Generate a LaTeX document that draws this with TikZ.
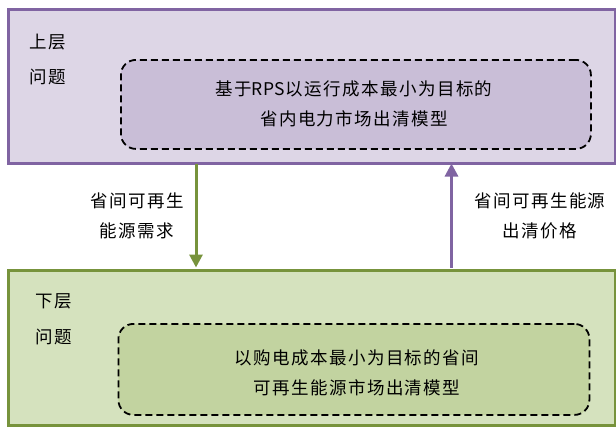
\documentclass[tikz,border=0pt]{standalone}
\usepackage{fontspec}
\newfontfamily\cjk[LetterSpace=8]{Noto Sans CJK SC}
\newfontfamily\latn{Noto Sans CJK SC}
\usetikzlibrary{arrows.meta}
\definecolor{pborder}{HTML}{8064A2}
\definecolor{pfill}{HTML}{DDD6E6}
\definecolor{pinner}{HTML}{C9BED7}
\definecolor{gborder}{HTML}{77933C}
\definecolor{gfill}{HTML}{D5E2BE}
\definecolor{ginner}{HTML}{C2D3A0}
\tikzset{
  layerbox/.style={draw=#1, line width=3pt},
  innerbox/.style={draw=black, line width=1.8pt, rounded corners=15pt, dash pattern=on 7pt off 4pt},
  txt/.style={font=\cjk\fontsize{17.5}{30}\selectfont, align=center, inner sep=0pt},
  arr/.style={line width=3pt, -{Triangle[width=13pt,length=13pt]}},
}
\begin{document}
\begin{tikzpicture}[x=1pt,y=-1pt]
\useasboundingbox (0,0) rectangle (616,429);
% upper
\node[layerbox=pborder, fill=pfill, minimum width=607pt, minimum height=154pt, anchor=north west] (up) at (6.5,8) {};
\node[innerbox, fill=pinner, minimum width=470pt, minimum height=89pt, anchor=north west] (upin) at (120,59) {};
\node[txt] (uptext) at (354,104) {基于{\latn RPS\hspace{1.5pt}}以运行成本最小为目标的\\省内电力市场出清模型};
\node[txt, anchor=west] (uplab1) at (29,42) {上层};
\node[txt, anchor=west] (uplab2) at (29,77) {问题};
% lower
\node[layerbox=gborder, fill=gfill, minimum width=607pt, minimum height=155pt, anchor=north west] (lo) at (6.5,269) {};
\node[innerbox, fill=ginner, minimum width=471pt, minimum height=91pt, anchor=north west] (loin) at (117.5,323) {};
\node[txt] (lotext) at (357,372.5) {以购电成本最小为目标的省间\\可再生能源市场出清模型};
\node[txt, anchor=west] (lolab1) at (35,301) {下层};
\node[txt, anchor=west] (lolab2) at (35,337) {问题};
% arrows
\coordinate (a1s) at (196,163.5);
\coordinate (a1e) at (196,267.5);
\coordinate (a2s) at (451.5,267.5);
\coordinate (a2e) at (451.5,163.5);
\draw[arr, draw=gborder, fill=gborder] (a1s) -- (a1e);
\draw[arr, draw=pborder, fill=pborder] (a2s) -- (a2e);
\node[txt] (l1) at (137,215.5) {省间可再生\\能源需求};
\node[txt] (l2) at (540,215.5) {省间可再生能源\\出清价格};
\end{tikzpicture}
\end{document}
